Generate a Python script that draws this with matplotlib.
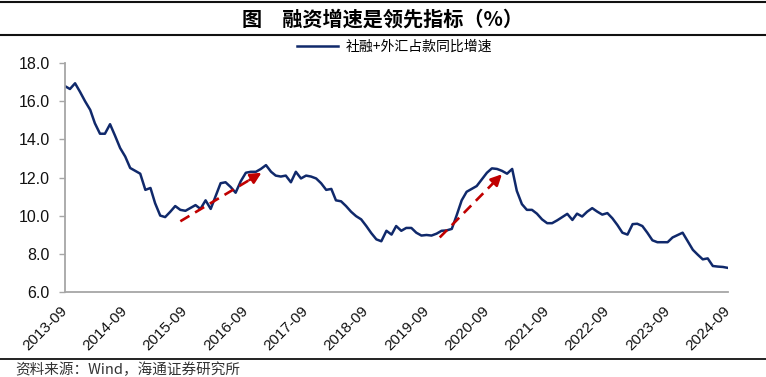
import matplotlib
matplotlib.use("Agg")
import matplotlib.pyplot as plt
from matplotlib.lines import Line2D
import pandas as pd

plt.rcParams['font.family'] = ['Liberation Sans', 'Noto Sans CJK SC', 'DejaVu Sans']

# 月度数据：2013-09 ~ 2024-09
start_month = '2013-09'
growth = [
    16.8, 16.65, 16.95, 16.5, 16.0, 15.55, 14.85, 14.3, 14.3, 14.8,
    14.2, 13.55, 13.1, 12.5, 12.35, 12.2, 11.35, 11.45, 10.65, 10.0,
    9.92, 10.2, 10.5, 10.3, 10.25, 10.4, 10.55, 10.35, 10.8, 10.35,
    11.0, 11.7, 11.75, 11.5, 11.2, 11.8, 12.25, 12.3, 12.3, 12.45,
    12.65, 12.3, 12.1, 12.05, 12.1, 11.75, 12.3, 11.95, 12.1, 12.05,
    11.95, 11.7, 11.35, 11.4, 10.8, 10.75, 10.5, 10.2, 9.97, 9.8,
    9.45, 9.08, 8.75, 8.65, 9.2, 9.0, 9.45, 9.2, 9.35, 9.35,
    9.1, 8.95, 8.98, 8.95, 9.05, 9.2, 9.22, 9.3, 10.0, 10.8,
    11.25, 11.4, 11.55, 11.9, 12.25, 12.48, 12.45, 12.35, 12.2, 12.45,
    11.3, 10.6, 10.3, 10.3, 10.1, 9.8, 9.6, 9.6, 9.75, 9.92,
    10.09, 9.77, 10.1, 9.95, 10.2, 10.39, 10.21, 10.05, 10.13, 9.86,
    9.5, 9.1, 9.0, 9.55, 9.57, 9.45, 9.1, 8.7, 8.6, 8.6,
    8.6, 8.85, 8.98, 9.1, 8.65, 8.2, 7.95, 7.7, 7.75, 7.35,
    7.32, 7.3, 7.25,
]
dates = pd.date_range(start_month, periods=len(growth), freq='MS')
tick_dates = dates[::12]
tick_labels = [d.strftime('%Y-%m') for d in tick_dates]

# 红色虚线箭头（起点、终点）
arrow1 = (('2015-08-01', 9.7), ('2016-12-05', 12.25))
arrow2 = (('2019-11-20', 8.85), ('2020-12-01', 12.17))

line_color = '#10296B'
arrow_color = '#C00000'

fig = plt.figure(figsize=(7.66, 3.77), dpi=100)
W, H = 766, 377
ax = fig.add_axes([65 / W, 1 - 291.7 / H, (728 - 65) / W, (291.7 - 63.3) / H])

ax.plot(dates, growth, color=line_color, lw=1.8, label='社融+外汇占款同比增速')

for (s, e) in [arrow1, arrow2]:
    x0, y0 = pd.Timestamp(s[0]), s[1]
    x1, y1 = pd.Timestamp(e[0]), e[1]
    # 虚线部分停在箭头头部之前
    xm = x0 + (x1 - x0) * 0.85
    ym = y0 + (y1 - y0) * 0.85
    ax.plot([x0, xm], [y0, ym], color=arrow_color, lw=1.9, ls=(0, (4, 2.5)))
    ax.annotate('', xy=(x1, y1), xytext=(xm, ym),
                arrowprops=dict(arrowstyle='-|>', color=arrow_color, lw=1.9,
                                mutation_scale=16, shrinkA=0, shrinkB=0))

ax.set_xlim(dates[0], dates[-1])
ax.set_ylim(6, 18)
ax.set_yticks([6, 8, 10, 12, 14, 16, 18])
ax.yaxis.set_major_formatter(plt.FormatStrFormatter('%.1f'))
ax.set_xticks(tick_dates)
ax.set_xticklabels(tick_labels, rotation=45, ha='right', va='center',
                   rotation_mode='anchor')

for side in ['top', 'right']:
    ax.spines[side].set_visible(False)
for side in ['left', 'bottom']:
    ax.spines[side].set_color('#A6A6A6')
    ax.spines[side].set_linewidth(1.3)

ax.tick_params(axis='y', length=4, width=1, color='#A6A6A6', labelsize=11.5,
               labelcolor='#111111', pad=7)
ax.tick_params(axis='x', length=0, labelsize=11, labelcolor='#111111', pad=12)

fig.legend(loc='center', bbox_to_anchor=(395 / W, 1 - 47 / H), frameon=False,
           prop={'family': ['Noto Sans CJK SC', 'DejaVu Sans'], 'size': 10},
           handlelength=2.9, handletextpad=0.6)

fig.text(0.5, 1 - 19 / H, '图　融资增速是领先指标（%）', ha='center', va='center',
         fontsize=14.5, fontweight='bold', family=['Noto Sans CJK SC', 'DejaVu Sans'])

for yy, lw in [(1.5, 1.5), (35, 1.5), (359, 1.3)]:
    fig.add_artist(Line2D([0, 1], [1 - yy / H, 1 - yy / H], color='#111111', lw=lw,
                          transform=fig.transFigure))

fig.text(15 / W, 1 - 370 / H, '资料来源：Wind，海通证券研究所', ha='left', va='center',
         fontsize=10.5, color='#333333', family=['Noto Sans CJK SC', 'DejaVu Sans'])

fig.savefig('out.png', dpi=100)
